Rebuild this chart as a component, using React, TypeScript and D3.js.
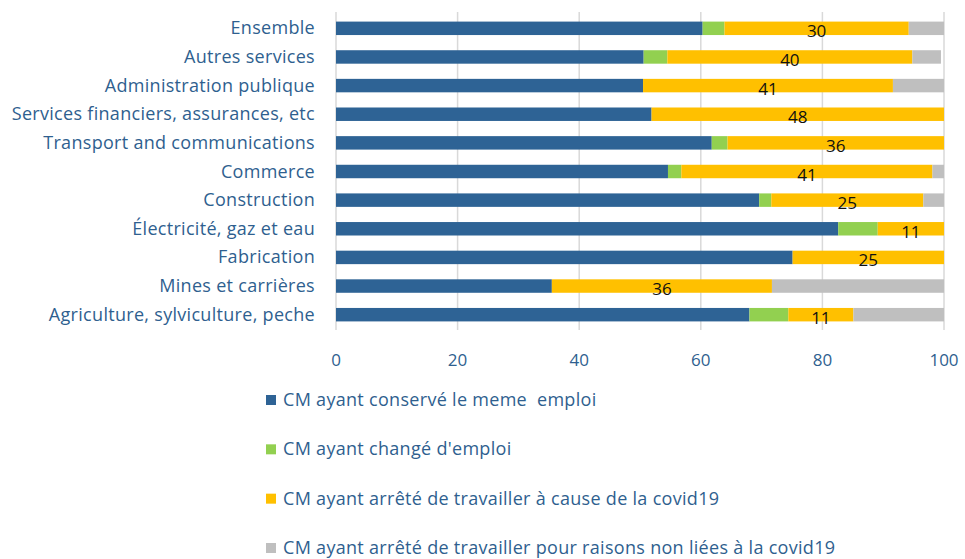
import React from "react";
import * as d3 from "d3";

const categories = [
  "Ensemble",
  "Autres services",
  "Administration publique",
  "Services financiers, assurances, etc",
  "Transport and communications",
  "Commerce",
  "Construction",
  "Électricité, gaz et eau",
  "Fabrication",
  "Mines et carrières",
  "Agriculture, sylviculture, peche",
];
const conserve = [60.3, 50.6, 50.5, 51.9, 61.8, 54.6, 69.6, 82.6, 75.1, 35.5, 68.0];
const change = [3.6, 3.9, 0, 0, 2.6, 2.2, 2.0, 6.5, 0, 0, 6.4];
const covid = [30.3, 40.3, 41.1, 48.1, 35.6, 41.3, 25.0, 10.9, 24.9, 36.2, 10.7];
const autres = [5.8, 4.7, 8.4, 0, 0, 1.9, 3.4, 0, 0, 28.3, 14.9];
const xTicks = [0, 20, 40, 60, 80, 100];
const seriesNames = [
  "CM ayant conservé le meme  emploi",
  "CM ayant changé d'emploi",
  "CM ayant arrêté de travailler à cause de la covid19",
  "CM ayant arrêté de travailler pour raisons non liées à la covid19",
];
const seriesColors = ["#2E6395", "#92D050", "#FFC000", "#BFBFBF"];

const W = 965;
const H = 559;
const FONT = "'Open Sans', Lato, sans-serif";
const TEXT_COLOR = "#2F5F8F";

export default function App() {
  const x = d3.scaleLinear().domain([0, 100]).range([336, 944]);
  const y = d3
    .scaleBand<string>()
    .domain(categories)
    .range([14, 329])
    .paddingInner(0.53)
    .paddingOuter(0.265);

  const table = categories.map((c, i) => ({
    cat: c,
    conserve: conserve[i],
    change: change[i],
    covid: covid[i],
    autres: autres[i],
  }));
  const keys = ["conserve", "change", "covid", "autres"];
  const stacked = d3.stack<any>().keys(keys)(table);

  const legendY = d3.scalePoint<string>().domain(seriesNames).range([400, 548]);

  return (
    <svg
      width={W}
      height={H}
      style={{ position: "absolute", left: 0, top: 0, background: "#fff" }}
      fontFamily={FONT}
    >
      {xTicks.map((t) => (
        <line key={"g" + t} x1={x(t)} x2={x(t)} y1={12} y2={330} stroke="#D9D9D9" strokeWidth={1.5} />
      ))}
      {stacked.map((s, si) =>
        s.map((d, i) =>
          d[1] - d[0] > 0 ? (
            <rect
              key={si + "-" + i}
              x={x(d[0])}
              y={y(categories[i])}
              width={x(d[1]) - x(d[0])}
              height={y.bandwidth()}
              fill={seriesColors[si]}
            />
          ) : null
        )
      )}
      {stacked[2].map((d, i) => (
        <text
          key={"v" + i}
          x={x((d[0] + d[1]) / 2)}
          y={(y(categories[i]) as number) + y.bandwidth() / 2 + 9}
          textAnchor="middle"
          fontSize={17}
          fill="#111"
        >
          {Math.round(covid[i])}
        </text>
      ))}
      {categories.map((c) => (
        <text
          key={"c" + c}
          x={315}
          y={(y(c) as number) + y.bandwidth() / 2 + 6}
          textAnchor="end"
          fontSize={18}
          letterSpacing={0.3}
          fill={TEXT_COLOR}
        >
          {c}
        </text>
      ))}
      {xTicks.map((t) => (
        <text key={"t" + t} x={x(t)} y={366} textAnchor="middle" fontSize={17} fill={TEXT_COLOR}>
          {t}
        </text>
      ))}
      {seriesNames.map((n, i) => (
        <g key={"l" + i}>
          <rect x={266} y={(legendY(n) as number) - 5} width={10} height={10} fill={seriesColors[i]} />
          <text
            x={283}
            y={(legendY(n) as number) + 6}
            fontSize={18}
            letterSpacing={0.3}
            fill={TEXT_COLOR}
            style={{ whiteSpace: "pre" }}
          >
            {n}
          </text>
        </g>
      ))}
    </svg>
  );
}
